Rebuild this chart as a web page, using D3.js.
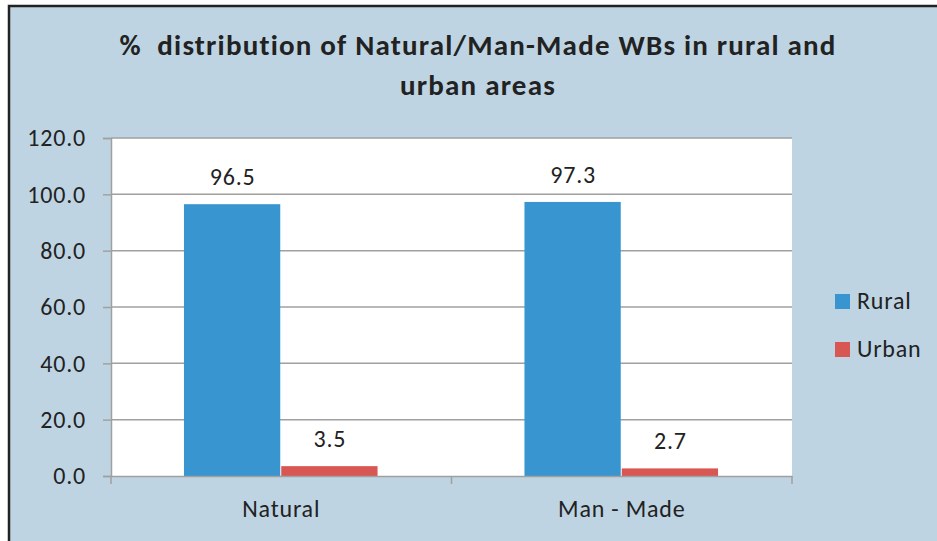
<!DOCTYPE html>
<html>
<head>
<meta charset="utf-8">
<script src="https://cdn.jsdelivr.net/npm/d3@7"></script>
<style>
  html, body { margin: 0; padding: 0; background: #fff; }
  svg { display: block; font-family: Carlito, Lato, "Open Sans", sans-serif; }
  text { white-space: pre; }
</style>
</head>
<body>
<svg id="chart" width="937" height="541"></svg>
<script>
// data
const categories = ['Natural', 'Man - Made'];
const seriesNames = ['Rural', 'Urban'];
const rural = [96.5, 97.3];
const urban = [3.5, 2.7];
const yTicks = [0, 20, 40, 60, 80, 100, 120];
const titleLines = ['%  distribution of Natural/Man-Made WBs in rural and', 'urban areas'];

const colors = { Rural: '#3895cf', Urban: '#d95753' };
const width = 937, height = 541;
const plot = { left: 111, right: 792, top: 138, bottom: 476 };
const fontFam = 'Carlito, Lato, "Open Sans", sans-serif';
const labelSize = 24, labelSpacing = 0.8;

const svg = d3.select('#chart');

// chart background + border
svg.append('rect')
    .attr('x', 0).attr('y', 0)
    .attr('width', width).attr('height', height)
    .attr('fill', '#fff');
svg.append('rect')
    .attr('x', 9).attr('y', 6)
    .attr('width', width + 20).attr('height', height + 20)
    .attr('fill', '#bed4e2')
    .attr('stroke', '#222')
    .attr('stroke-width', 2.5);

// title
svg.append('text')
    .attr('x', 478).attr('y', 55)
    .attr('text-anchor', 'middle')
    .attr('font-size', 29).attr('font-weight', 'bold')
    .attr('letter-spacing', 1.2)
    .attr('fill', '#222')
    .selectAll('tspan')
    .data(titleLines)
  .enter().append('tspan')
    .attr('x', 478)
    .attr('dy', (d, i) => i === 0 ? 0 : 40)
    .text(d => d);

const x0 = d3.scaleBand()
    .domain(categories)
    .range([plot.left, plot.right]);

// gap width 150% like the spreadsheet default
const barW = x0.bandwidth() / 3.5;
const x1 = d3.scaleBand()
    .domain(seriesNames)
    .range([0, barW * 2]);

const y = d3.scaleLinear()
    .domain([0, 120])
    .range([plot.bottom, plot.top]);

// plot area
svg.append('rect')
    .attr('x', plot.left).attr('y', plot.top)
    .attr('width', plot.right - plot.left)
    .attr('height', plot.bottom - plot.top)
    .attr('fill', '#fff');

// gridlines
svg.append('g')
    .selectAll('line')
    .data(yTicks.filter(d => d > 0))
  .enter().append('line')
    .attr('x1', plot.left).attr('x2', plot.right)
    .attr('y1', d => y(d)).attr('y2', d => y(d))
    .attr('stroke', '#a0a0a0')
    .attr('stroke-width', 1.5);

// y axis
const yAxis = svg.append('g')
    .attr('transform', `translate(${plot.left},0)`)
    .call(d3.axisLeft(y).tickValues(yTicks).tickFormat(d3.format('.1f')).tickSize(8).tickPadding(17));
yAxis.select('.domain').attr('stroke', '#a0a0a0').attr('stroke-width', 1.5);
yAxis.selectAll('.tick line').attr('stroke', '#a0a0a0').attr('stroke-width', 1.5);
yAxis.selectAll('.tick text')
    .attr('font-size', labelSize).attr('letter-spacing', labelSpacing)
    .attr('fill', '#222')
    .attr('font-family', fontFam);

// bars
const groups = svg.append('g')
    .selectAll('g')
    .data(categories)
  .enter().append('g')
    .attr('transform', d => `translate(${x0(d) + (x0.bandwidth() - barW * 2) / 2},0)`);

const rows = (d, i) => [
  { key: 'Rural', value: rural[i] },
  { key: 'Urban', value: urban[i] },
];

groups.selectAll('rect')
    .data(rows)
  .enter().append('rect')
    .attr('x', d => x1(d.key))
    .attr('y', d => y(d.value))
    .attr('width', x1.bandwidth() - 1)
    .attr('height', d => y(0) - y(d.value))
    .attr('fill', d => colors[d.key]);

groups.selectAll('text')
    .data(rows)
  .enter().append('text')
    .attr('x', d => x1(d.key) + x1.bandwidth() / 2)
    .attr('y', d => y(d.value) - 19)
    .attr('text-anchor', 'middle')
    .attr('font-size', labelSize).attr('letter-spacing', labelSpacing)
    .attr('fill', '#222')
    .text(d => d.value.toFixed(1));

// x axis
const xAxis = svg.append('g')
    .attr('transform', `translate(0,${plot.bottom})`)
    .call(d3.axisBottom(x0).tickSize(0).tickPadding(24));
xAxis.select('.domain').attr('stroke', '#a0a0a0').attr('stroke-width', 1.5);
xAxis.selectAll('.tick text')
    .attr('font-size', labelSize).attr('letter-spacing', labelSpacing)
    .attr('fill', '#222')
    .attr('font-family', fontFam);

// category separators on the x axis
svg.append('g')
    .selectAll('line')
    .data([plot.left, x0(categories[1]), plot.right])
  .enter().append('line')
    .attr('x1', d => d).attr('x2', d => d)
    .attr('y1', plot.bottom).attr('y2', plot.bottom + 8)
    .attr('stroke', '#a0a0a0')
    .attr('stroke-width', 1.5);

// legend
const legend = svg.append('g')
    .selectAll('g')
    .data(seriesNames)
  .enter().append('g')
    .attr('transform', (d, i) => `translate(835,${294 + i * 48})`);

legend.append('rect')
    .attr('width', 15).attr('height', 15)
    .attr('fill', d => colors[d]);

legend.append('text')
    .attr('x', 22).attr('y', 15)
    .attr('font-size', labelSize).attr('letter-spacing', labelSpacing)
    .attr('fill', '#222')
    .text(d => d);
</script>
</body>
</html>
